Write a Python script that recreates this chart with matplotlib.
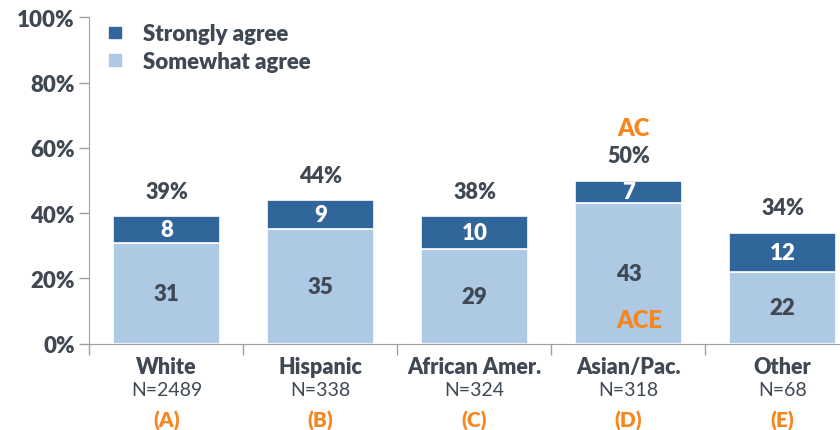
import matplotlib
matplotlib.use("Agg")
import matplotlib.pyplot as plt
import matplotlib.transforms as mtransforms
import numpy as np

plt.rcParams['font.family'] = ['Lato', 'DejaVu Sans']

groups = ["White", "Hispanic", "African Amer.", "Asian/Pac.", "Other"]
n_labels = ["N=2489", "N=338", "N=324", "N=318", "N=68"]
letters = ["(A)", "(B)", "(C)", "(D)", "(E)"]
somewhat = [31, 35, 29, 43, 22]
strongly = [8, 9, 10, 7, 12]
totals = ["39%", "44%", "38%", "50%", "34%"]

dark = "#31669a"
light = "#adc9e3"
txt = "#3f4853"
orange = "#f7861f"
bw = "heavy"

fig = plt.figure(figsize=(8.4, 4.31), dpi=100)
# the original chart is cut off slightly on the right side
ax = fig.add_axes([0.1065, 0.2002, 0.9167, 0.7573])

x = np.arange(len(groups))
w = 0.70
ax.bar(x, somewhat, width=w, color=light, edgecolor="white", linewidth=1.2)
ax.bar(x, strongly, width=w, bottom=somewhat, color=dark, edgecolor="white", linewidth=1.2)

for i in range(len(groups)):
    ax.text(x[i], somewhat[i] / 2, str(somewhat[i]), ha="center", va="center",
            fontsize=16, fontweight=bw, color=txt)
    ax.text(x[i], somewhat[i] + strongly[i] / 2, str(strongly[i]), ha="center", va="center",
            fontsize=16, fontweight=bw, color="white")
    ax.text(x[i], somewhat[i] + strongly[i] + 7.6, totals[i], ha="center", va="center",
            fontsize=15.5, fontweight=bw, color=txt)

# significance letters for Asian/Pac.
ax.text(x[3] + 0.03, 66.2, "AC", ha="center", va="center", fontsize=17, fontweight=bw, color=orange)
ax.text(x[3] + 0.07, 7.2, "ACE", ha="center", va="center", fontsize=17, fontweight=bw, color=orange)

ax.set_xlim(-0.5, len(groups) - 0.5)
ax.set_ylim(0, 100)
ax.set_yticks(np.arange(0, 101, 20))
ax.set_yticklabels([f"{v}%" for v in range(0, 101, 20)], fontsize=16, fontweight=bw, color=txt)
shift = mtransforms.ScaledTranslation(0, -3 / 100, fig.dpi_scale_trans)
for lab in ax.get_yticklabels():
    lab.set_transform(lab.get_transform() + shift)
ax.set_xticks(np.arange(-0.5, len(groups), 1))
ax.set_xticklabels([])
ax.tick_params(axis="both", color="#a0a0a0", length=7, width=1)
ax.tick_params(axis="x", length=8)
for s in ["top", "right"]:
    ax.spines[s].set_visible(False)
for s in ["left", "bottom"]:
    ax.spines[s].set_color("#a0a0a0")

for i in range(len(groups)):
    ax.text(x[i], -7, groups[i], ha="center", va="center", fontsize=15.5, fontweight=bw,
            color=txt, clip_on=False)
    ax.text(x[i], -13.9, n_labels[i], ha="center", va="center", fontsize=14,
            color=txt, clip_on=False)
    ax.text(x[i], -23.3, letters[i], ha="center", va="center", fontsize=15, fontweight=bw,
            color=orange, clip_on=False)

# legend
fig.patches.append(plt.Rectangle((0.1298, 0.9088), 0.0143, 0.027, transform=fig.transFigure, color=dark))
fig.patches.append(plt.Rectangle((0.1298, 0.8455), 0.0143, 0.027, transform=fig.transFigure, color=light))
fig.text(0.170, 0.919, "Strongly agree", ha="left", va="center", fontsize=16, fontweight=bw, color=txt)
fig.text(0.170, 0.856, "Somewhat agree", ha="left", va="center", fontsize=16, fontweight=bw, color=txt)

fig.savefig("out.png", dpi=100)
